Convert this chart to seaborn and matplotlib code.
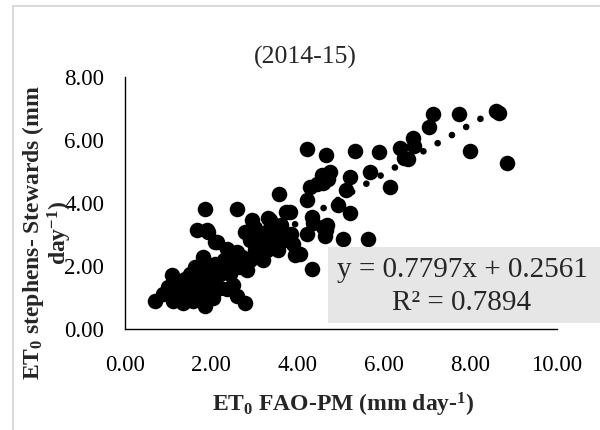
import matplotlib
matplotlib.use("Agg")
import matplotlib.pyplot as plt
from matplotlib.patches import Rectangle
import seaborn as sns
import numpy as np

# ---------------- data ----------------
fao_pm = [7.12, 7.74, 8.65, 8.59, 7.03, 6.66, 6.69, 6.46, 6.37, 7.99, 8.84,
          4.21, 4.65, 5.32, 5.87, 6.55,
          5.67, 6.13, 4.75, 4.55, 4.59, 4.28, 5.21, 5.12, 4.21, 4.94, 5.21,
          3.82, 4.32, 4.59, 4.21, 5.05, 5.63, 3.90, 4.32, 4.63, 4.67, 4.05,
          3.57, 1.85, 2.60, 3.73, 4.36, 4.70, 4.45,
          2.93, 2.78, 3.36, 3.47, 3.09, 3.59, 3.94, 1.89, 2.08, 2.35, 2.59,
          3.28, 3.55, 3.20, 2.89, 2.66, 2.39, 2.08, 1.81, 1.89, 2.20, 1.66,
          1.93, 2.12, 2.89, 1.62, 1.93, 1.08, 1.50, 2.43, 2.82, 1.00, 1.35,
          1.66, 1.97, 2.35, 0.69, 0.89, 1.12, 1.35, 1.58, 1.85, 1.81, 2.04,
          2.59, 2.78, 1.20, 1.50, 3.31, 3.49, 3.67, 3.85, 4.65,
          1.40, 1.70, 1.55, 1.75, 1.90, 1.25, 1.45, 2.20, 2.50,
          2.30, 2.50, 2.70, 3.00, 3.10, 3.30, 3.40, 3.60, 3.00]
stephens = [6.82, 6.84, 6.87, 6.92, 6.42, 6.07, 5.82, 5.44, 5.76, 5.65, 5.27,
            5.72, 5.51, 5.66, 5.61, 5.40,
            5.00, 4.50, 4.97, 4.90, 4.63, 4.52, 4.81, 4.42, 4.10, 3.94, 3.67,
            3.72, 3.56, 3.24, 3.03, 2.87, 2.87, 2.71, 1.91, 2.94, 3.30, 2.39,
            4.28, 3.80, 3.80, 3.72, 3.35, 4.75, 4.60,
            3.46, 3.08, 3.46, 3.19, 2.82, 2.87, 2.34, 3.14, 2.76, 2.55, 2.44,
            2.50, 2.50, 2.18, 2.18, 1.96, 1.86, 2.07, 2.28, 1.86, 1.75, 3.14,
            3.08, 2.76, 2.82, 1.96, 2.02, 1.73, 1.75, 1.75, 1.86, 1.32, 1.38,
            1.32, 1.48, 1.27, 0.90, 1.11, 0.90, 0.84, 0.90, 0.74, 1.11, 1.00,
            1.06, 0.84, 1.16, 1.06, 3.52, 3.14, 2.82, 3.03, 3.14,
            1.60, 1.60, 1.20, 1.45, 1.25, 1.30, 1.00, 1.30, 1.40,
            2.20, 2.10, 2.30, 2.50, 3.00, 3.10, 2.80, 3.30, 3.20]

slope = 0.7797
intercept = 0.2561
r_squared = 0.7894

x_ticks = [0, 2, 4, 6, 8, 10]
y_ticks = [0, 2, 4, 6, 8]
title_text = "(2014-15)"

# ---------------- style ----------------
sns.set_style("white")
plt.rcParams["font.family"] = ["Liberation Serif", "DejaVu Serif"]
plt.rcParams["mathtext.fontset"] = "custom"
plt.rcParams["mathtext.rm"] = "Liberation Serif"
plt.rcParams["mathtext.bf"] = "Liberation Serif:bold"
plt.rcParams["mathtext.it"] = "Liberation Serif:italic"

W, H = 600, 430
fig = plt.figure(figsize=(6.0, 4.3), dpi=100)
ax = fig.add_axes([125 / W, 1 - 329 / H, (557 - 125) / W, (329 - 77) / H])

sns.scatterplot(x=fao_pm, y=stephens, ax=ax, color="black", s=125,
                linewidth=0, zorder=3, legend=False)

# dotted linear trendline
xl = np.array([min(fao_pm), max(fao_pm)])
ax.plot(xl, slope * xl + intercept, color="black", lw=4.8,
        linestyle=(0.4, (0.01, 2.45)), dash_capstyle="round", zorder=4)

ax.set_xlim(0, 10)
ax.set_ylim(0, 8)
ax.set_xticks(x_ticks)
ax.set_yticks(y_ticks)
ax.set_xticklabels([f"{v:.2f}" for v in x_ticks])
ax.set_yticklabels([f"{v:.2f}" for v in y_ticks])
ax.tick_params(axis="both", length=0, labelsize=16.5, colors="black")
ax.tick_params(axis="x", pad=19)
ax.tick_params(axis="y", pad=15)
for s in ["top", "right"]:
    ax.spines[s].set_visible(False)
for s in ["left", "bottom"]:
    ax.spines[s].set_color("black")
    ax.spines[s].set_linewidth(1.0)
ax.set_xlabel("")
ax.set_ylabel("")
ax.patch.set_alpha(0)

# title
fig.text(305 / W, 1 - 57 / H, title_text, ha="center", va="center",
         fontsize=18.5)

# axis titles
fig.text(343 / W, 1 - 405 / H, r"ET$_\mathbf{0}$ FAO-PM (mm day-$^\mathbf{1}$)",
         ha="center", va="center", fontsize=17, fontweight="bold")
fig.text(33 / W, 1 - 233 / H, r"ET$_\mathbf{0}$ stephens- Stewards (mm",
         ha="center", va="center", fontsize=17, fontweight="bold", rotation=90)
fig.text(60 / W, 1 - 233 / H, r"day$^\mathbf{-1}$)",
         ha="center", va="center", fontsize=17, fontweight="bold", rotation=90)

# equation box
box = Rectangle((328 / W, 1 - 323 / H), 0.5, (323 - 247) / H,
                transform=fig.transFigure, facecolor="#e6e6e6",
                edgecolor="none", zorder=5)
fig.patches.append(box)
fig.text(462 / W, 1 - 270 / H, f"y = {slope}x + {intercept}", ha="center",
         va="center", fontsize=21, zorder=6)
fig.text(462 / W, 1 - 303 / H, f"R² = {r_squared}", ha="center",
         va="center", fontsize=21, zorder=6)

# chart-area border
border = Rectangle((13 / W, -0.2), 2.0, 1.2 - 6 / H, transform=fig.transFigure,
                   facecolor="none", edgecolor="#d4d4d4", lw=1.2, zorder=0)
fig.patches.append(border)

fig.savefig("out.png", dpi=100)
